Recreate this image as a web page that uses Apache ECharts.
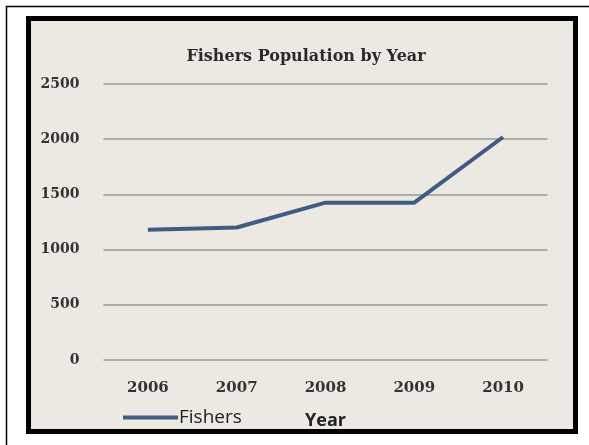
<!DOCTYPE html>
<html><head><meta charset="utf-8">
<script src="https://cdn.jsdelivr.net/npm/echarts@6/dist/echarts.min.js"></script>
<style>html,body{margin:0;padding:0;background:#fff;}#c{width:589px;height:445px;}</style>
</head><body><div id="c"></div>
<script>
const categories = ['2006','2007','2008','2009','2010'];
const fishers = [1180, 1200, 1425, 1425, 2020];
const yTicks = [0, 500, 1000, 1500, 2000, 2500];

const chart = echarts.init(document.getElementById('c'), null, {renderer:'canvas'});
const serif = '"DejaVu Serif"';
chart.setOption({
  animation: false,
  backgroundColor: '#ffffff',
  graphic: [
    {type:'rect', z:-20, shape:{x:6.5, y:6.5, width:620, height:480}, style:{fill:'#ffffff', stroke:'#000', lineWidth:1.5}},
    {type:'rect', z:-10, shape:{x:28.5, y:18.5, width:547, height:413}, style:{fill:'#ECE9E2', stroke:'#000', lineWidth:5}}
  ],
  title: {
    text: 'Fishers Population by Year',
    left: 301, top: 44, textAlign: 'center',
    textStyle: {fontFamily: serif, fontWeight: 'bold', fontSize: 16, color: '#2a2a2a'}
  },
  legend: {
    left: 118, top: 403,
    icon: 'rect', itemWidth: 55, itemHeight: 4, itemGap: 6,
    textStyle: {fontFamily: '"Open Sans"', fontSize: 19, color: '#222', padding:[0,0,0,-4]},
    data: ['Fishers']
  },
  grid: {left: 103.5, right: 41.5, top: 84, bottom: 85},
  xAxis: {
    type: 'category', data: categories, boundaryGap: true,
    name: 'Year', nameLocation: 'middle', nameGap: 52,
    nameTextStyle: {fontFamily: '"Open Sans"', fontWeight: 'bold', fontSize: 18, color: '#222'},
    axisLine: {show: false}, axisTick: {show: false},
    axisLabel: {fontFamily: serif, fontWeight: 'bold', fontSize: 15, color: '#333', margin: 21}
  },
  yAxis: {
    type: 'value', min: yTicks[0], max: yTicks[yTicks.length-1], interval: 500,
    axisLine: {show: false}, axisTick: {show: false},
    axisLabel: {fontFamily: serif, fontWeight: 'bold', fontSize: 14, color: '#333', margin: 24,
      formatter: v => String(v)},
    splitLine: {show: true, lineStyle: {color: '#9a9a96', width: 1.5}}
  },
  series: [{
    name: 'Fishers', type: 'line', data: fishers,
    symbol: 'none', lineStyle: {color: '#3F5D84', width: 4},
    itemStyle: {color: '#3F5D84'}
  }]
});
</script></body></html>
